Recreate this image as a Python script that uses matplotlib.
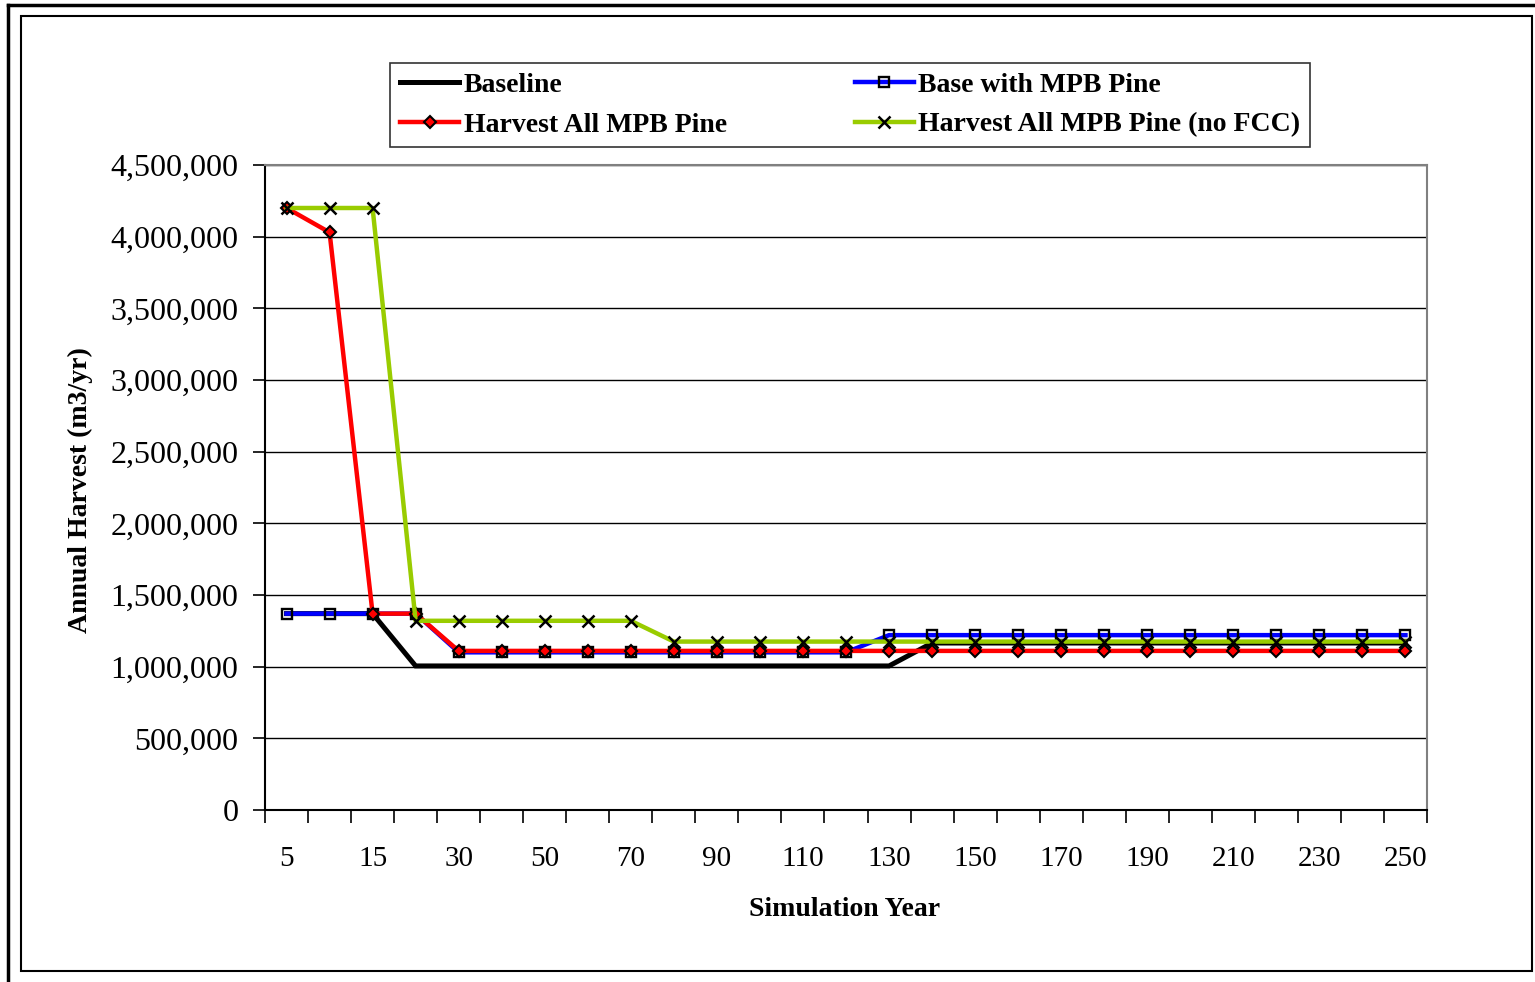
import matplotlib
matplotlib.use("Agg")
import matplotlib.pyplot as plt
from matplotlib.lines import Line2D
from matplotlib.patches import Rectangle
from matplotlib.ticker import FuncFormatter, FixedLocator

plt.rcParams["font.family"] = ["Liberation Serif", "DejaVu Serif"]

# ---- data ----
years = [5, 10, 15, 20, 30, 40, 50, 60, 70, 80, 90, 100, 110, 120, 130,
         140, 150, 160, 170, 180, 190, 200, 210, 220, 230, 240, 250]

baseline = [1370000, 1370000, 1370000] + [1005000] * 12 + [1165000] * 12
base_mpb = [1370000] * 4 + [1100000] * 10 + [1220000] * 13
harvest_all = [4200000, 4030000, 1370000, 1370000] + [1110000] * 23
harvest_nofcc = [4200000, 4200000, 4200000, 1320000] + [1320000] * 5 + [1175000] * 18

series_names = ["Baseline", "Base with MPB Pine",
                "Harvest All MPB Pine", "Harvest All MPB Pine (no FCC)"]

x = list(range(len(years)))

fig = plt.figure(figsize=(15.35, 9.82), dpi=100)
ax = fig.add_axes([265 / 1535, 1 - 810 / 982, (1427 - 265) / 1535, (810 - 165) / 982])

l1, = ax.plot(x, baseline, color="black", lw=3.6, zorder=3, solid_joinstyle="miter")
l2, = ax.plot(x, base_mpb, color="#0000FF", lw=3.2, marker="s", ms=6.5,
              mfc="none", mec="black", mew=1.7, zorder=4)
l3, = ax.plot(x, harvest_all, color="#FF0000", lw=3.2, marker="D", ms=6.5,
              mfc="#FF0000", mec="black", mew=1.5, zorder=5)
l4, = ax.plot(x, harvest_nofcc, color="#99CC00", lw=3.2, marker="x", ms=9,
              mec="black", mew=1.8, zorder=6)

ax.set_xlim(-0.5, len(years) - 0.5)
ax.set_ylim(0, 4500000)
ax.set_yticks(range(0, 4500001, 500000))
ax.yaxis.set_major_formatter(FuncFormatter(lambda v, p: f"{int(v):,}"))
ax.grid(axis="y", color="black", lw=1.0)
ax.set_axisbelow(True)

# category labels every other point, ticks at category boundaries
ax.set_xticks(x[::2])
ax.set_xticklabels([str(years[i]) for i in x[::2]])
ax.xaxis.set_minor_locator(FixedLocator([i - 0.5 for i in range(len(years) + 1)]))
ax.tick_params(axis="x", which="major", length=0, pad=26, labelsize=21)
ax.tick_params(axis="x", which="minor", length=9, width=1.2, direction="out")
ax.tick_params(axis="y", length=9, width=1.2, pad=10, labelsize=23)

for s in ["left", "bottom"]:
    ax.spines[s].set_color("black")
    ax.spines[s].set_linewidth(1.5)
for s in ["top", "right"]:
    ax.spines[s].set_color("#808080")
    ax.spines[s].set_linewidth(1.5)

fig.text(845 / 1535, 1 - 909 / 982, "Simulation Year", ha="center", va="center",
         fontsize=20, fontweight="bold")
fig.text(80 / 1535, 1 - 490 / 982, "Annual Harvest (m3/yr)", ha="center", va="center",
         rotation=90, fontsize=20, fontweight="bold")

# legend fills column by column, so order handles to get the reference rows
leg = fig.legend([l1, l3, l2, l4],
                 [series_names[0], series_names[2], series_names[1], series_names[3]],
                 ncol=2, loc="upper left", bbox_to_anchor=(390 / 1535, 1 - 63 / 982),
                 prop={"weight": "bold", "size": 20}, frameon=True, fancybox=False,
                 handlelength=2.15, handletextpad=0.15, columnspacing=4.6,
                 borderpad=0.35, labelspacing=0.5, borderaxespad=0)
leg.get_frame().set_edgecolor("black")
leg.get_frame().set_linewidth(1.2)

# borders around the chart
fig.patches.append(Rectangle((21 / 1535, 1 - 971 / 982), (1532 - 21) / 1535, (971 - 16) / 982,
                             transform=fig.transFigure, fill=False, ec="black", lw=1.5))
fig.lines.append(Line2D([8 / 1535, 8 / 1535], [0, 1 - 5 / 982], transform=fig.transFigure,
                        color="black", lw=2.5))
fig.lines.append(Line2D([8 / 1535, 1], [1 - 5 / 982, 1 - 5 / 982], transform=fig.transFigure,
                        color="black", lw=2.5))

fig.savefig("out.png", dpi=100)
